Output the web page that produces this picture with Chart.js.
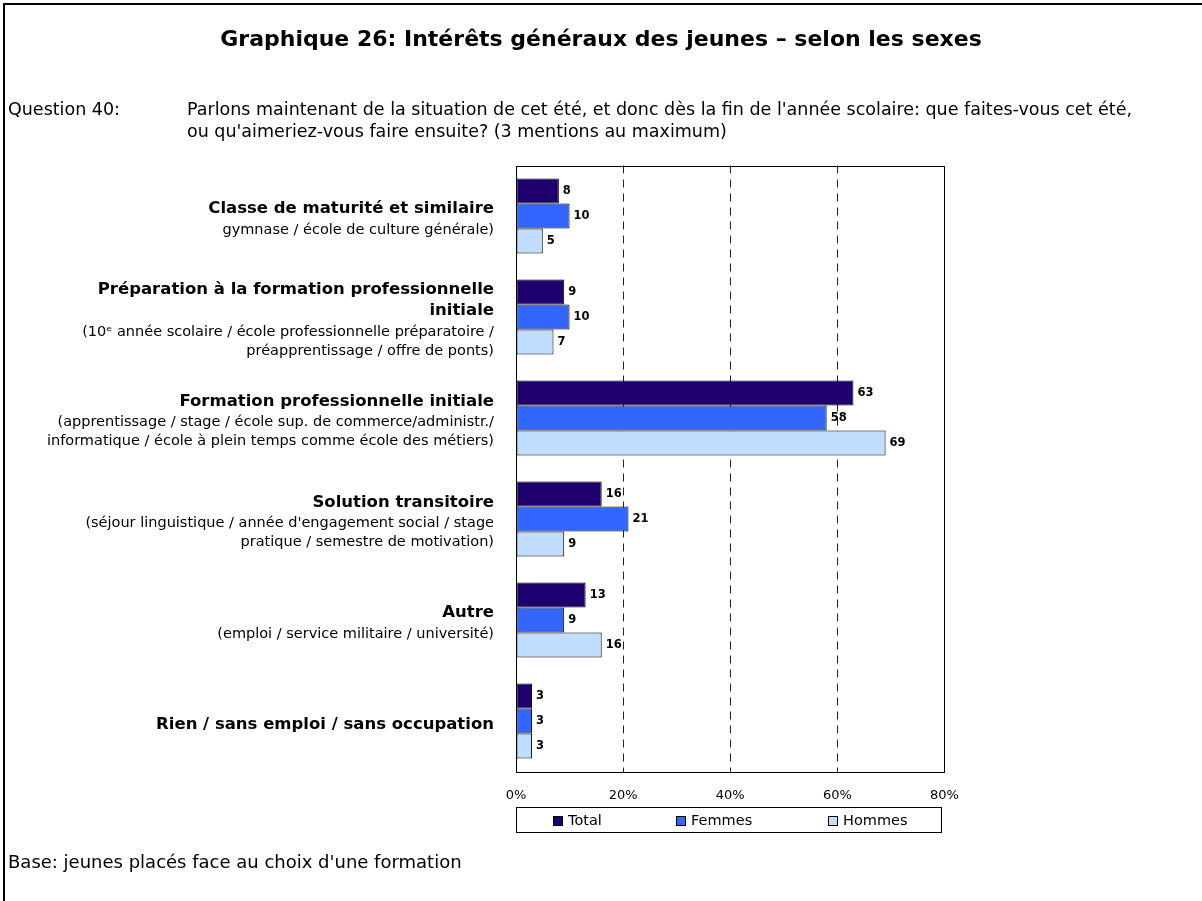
<!DOCTYPE html>
<html>
<head>
<meta charset="utf-8">
<script src="https://cdn.jsdelivr.net/npm/chart.js@4.4.0/dist/chart.umd.min.js"></script>
<style>
html,body{margin:0;padding:0;background:#fff;}
#wrap{position:relative;width:1202px;height:901px;overflow:hidden;font-family:"DejaVu Sans",sans-serif;color:#000;}
#c{position:absolute;left:0;top:0;}
.fr{position:absolute;background:#000;}
#title{position:absolute;left:0;width:1202px;top:26px;line-height:26px;text-align:center;font-weight:bold;font-size:22px;}
.txt{position:absolute;font-size:17.5px;line-height:21.7px;white-space:nowrap;}
</style>
</head>
<body>
<div id="wrap">
  <canvas id="c" width="1202" height="901"></canvas>
  <div class="fr" style="left:3px;top:3px;width:1199px;height:2px;"></div>
  <div class="fr" style="left:3px;top:3px;width:2px;height:898px;"></div>
  <div id="title">Graphique 26: Intérêts généraux des jeunes – selon les sexes</div>
  <div class="txt" style="left:8px;top:99px;">Question 40:</div>
  <div class="txt" style="left:187px;top:99px;">Parlons maintenant de la situation de cet été, et donc dès la fin de l'année scolaire: que faites-vous cet été,<br>ou qu'aimeriez-vous faire ensuite? (3 mentions au maximum)</div>
  <div class="txt" style="left:8px;top:851px;font-size:18px;">Base: jeunes placés face au choix d'une formation</div>
</div>
<script>
// ---- data ----
const categories = [
  ['Classe de maturité et similaire'],
  ['Préparation à la formation professionnelle', 'initiale'],
  ['Formation professionnelle initiale'],
  ['Solution transitoire'],
  ['Autre'],
  ['Rien / sans emploi / sans occupation']
];
const subLabels = [
  ['gymnase / école de culture générale)'],
  ['(10ᵉ année scolaire / école professionnelle préparatoire /', 'préapprentissage / offre de ponts)'],
  ['(apprentissage / stage / école sup. de commerce/administr./', 'informatique / école à plein temps comme école des métiers)'],
  ["(séjour linguistique / année d'engagement social / stage", 'pratique / semestre de motivation)'],
  ['(emploi / service militaire / université)'],
  []
];
const seriesNames = ['Total', 'Femmes', 'Hommes'];
const totalValues  = [8, 9, 63, 16, 13, 3];
const femmesValues = [10, 10, 58, 21, 9, 3];
const hommesValues = [5, 7, 69, 9, 16, 3];
const tickLabels = ['0%', '20%', '40%', '60%', '80%'];
const seriesColors = ['#1F006F', '#3366FF', '#C0DCFF'];

const FONT = '"DejaVu Sans", sans-serif';

const catLabelPlugin = {
  id: 'catLabels',
  afterDraw(chart) {
    const ctx = chart.ctx, ys = chart.scales.y;
    ctx.save();
    ctx.textAlign = 'right';
    ctx.textBaseline = 'middle';
    ctx.fillStyle = '#000';
    chart.data.labels.forEach((lab, i) => {
      const lines = [];
      lab.forEach(t => lines.push({t, b: true}));
      subLabels[i].forEach(t => lines.push({t, b: false}));
      const offs = [];
      let acc = 0;
      lines.forEach((l, k) => { if (k > 0) acc += lines[k - 1].b ? 21 : 19; offs.push(acc); });
      const cy = ys.getPixelForValue(i) + 3.5 - acc / 2;
      lines.forEach((l, k) => {
        ctx.font = (l.b ? 'bold 16.5px ' : '14.5px ') + FONT;
        ctx.fillText(l.t, 494, cy + offs[k]);
      });
    });
    ctx.restore();
  }
};

const valuePlugin = {
  id: 'values',
  afterDatasetsDraw(chart) {
    const ctx = chart.ctx;
    ctx.save();
    ctx.font = 'bold 11.5px ' + FONT;
    ctx.fillStyle = '#000';
    ctx.textAlign = 'left';
    ctx.textBaseline = 'middle';
    chart.data.datasets.forEach((ds, di) => {
      chart.getDatasetMeta(di).data.forEach((bar, i) => {
        ctx.fillText(String(ds.data[i]), bar.x + 4, bar.y + 0.5);
      });
    });
    ctx.restore();
  }
};

const framePlugin = {
  id: 'frame',
  afterDraw(chart) {
    const {ctx, chartArea: a} = chart;
    ctx.save();
    ctx.strokeStyle = '#000';
    ctx.lineWidth = 1;
    ctx.strokeRect(Math.round(a.left) + 0.5, Math.round(a.top) + 0.5, Math.round(a.right - a.left) - 1, Math.round(a.bottom - a.top));
    ctx.restore();
  }
};

const legendPlugin = {
  id: 'boxLegend',
  afterDraw(chart) {
    const ctx = chart.ctx;
    const xs = [553, 676, 828];
    ctx.save();
    ctx.strokeStyle = '#000';
    ctx.lineWidth = 1;
    ctx.strokeRect(516.5, 807.5, 425, 25);
    ctx.font = '14.5px ' + FONT;
    ctx.textBaseline = 'middle';
    ctx.textAlign = 'left';
    chart.data.datasets.forEach((ds, i) => {
      ctx.fillStyle = ds.backgroundColor;
      ctx.fillRect(xs[i], 816, 10, 10);
      ctx.strokeRect(xs[i] + 0.5, 816.5, 9, 9);
      ctx.fillStyle = '#000';
      ctx.fillText(ds.label, xs[i] + 15, 821);
    });
    ctx.restore();
  }
};

new Chart(document.getElementById('c'), {
  type: 'bar',
  data: {
    labels: categories,
    datasets: [
      {label: seriesNames[0], data: totalValues,  backgroundColor: seriesColors[0]},
      {label: seriesNames[1], data: femmesValues, backgroundColor: seriesColors[1]},
      {label: seriesNames[2], data: hommesValues, backgroundColor: seriesColors[2]}
    ]
  },
  options: {
    indexAxis: 'y',
    responsive: false,
    animation: false,
    devicePixelRatio: 1,
    layout: {padding: {left: 516, right: 257.5, top: 165.5, bottom: 89.5}},
    datasets: {bar: {categoryPercentage: 0.743, barPercentage: 1, borderWidth: 1, borderColor: '#000', borderSkipped: false}},
    plugins: {legend: {display: false}, tooltip: {enabled: false}},
    scales: {
      x: {
        min: 0, max: 80,
        ticks: {stepSize: 20, padding: 16, color: '#000', font: {family: FONT, size: 13},
                callback: (v, i) => tickLabels[i]},
        grid: {drawTicks: false, lineWidth: 1,
               color: c => (c.tick && (c.tick.value === 0 || c.tick.value === 80)) ? 'rgba(0,0,0,0)' : '#222'},
        border: {display: false, dash: [8, 6]},
        afterFit: s => { s.height = 40; }
      },
      y: {
        ticks: {display: false},
        grid: {display: false},
        border: {display: false},
        afterFit: s => { s.width = 0; }
      }
    }
  },
  plugins: [catLabelPlugin, valuePlugin, framePlugin, legendPlugin]
});
</script>
</body>
</html>
